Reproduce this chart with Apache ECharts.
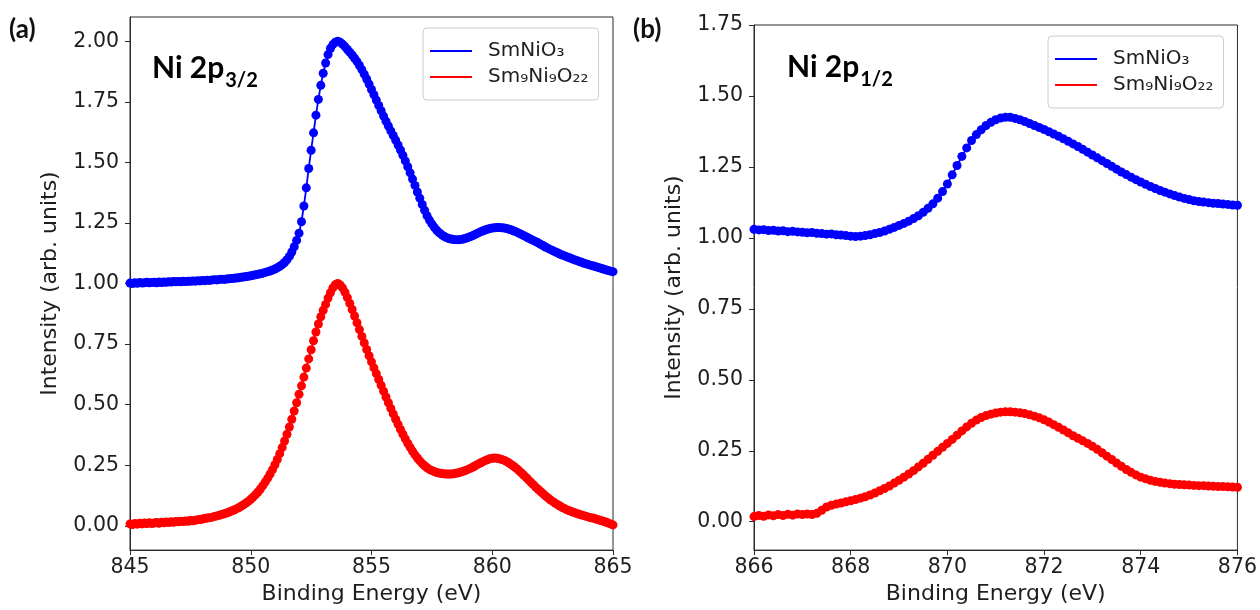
<!DOCTYPE html>
<html>
<head>
<meta charset="utf-8">
<script src="https://cdn.jsdelivr.net/npm/echarts@6/dist/echarts.min.js"></script>
<style>
html,body{margin:0;padding:0;background:#fff;}
#chart{width:1260px;height:610px;}
</style>
</head>
<body>
<div id="chart"></div>
<script>
// ---------- DATA ----------
const seriesNames = ['SmNiO\u2083', 'Sm\u2089Ni\u2089O\u2082\u2082'];
const panelLabels = ['(a)', '(b)'];
const peakLabels = [['Ni 2p', '3/2'], ['Ni 2p', '1/2']];
const xAxisTitle = 'Binding Energy (eV)';
const yAxisTitle = 'Intensity (arb. units)';

// Panel (a): binding energy 845.0 .. 865.0 eV, 0.1 eV sampling
const energyStartA = 845.0, energyStepA = 0.1;
const blueA = [
 1.002,1.000,1.003,1.001,1.004,1.002,1.003,1.005,1.003,1.004,
 1.005,1.003,1.006,1.004,1.006,1.005,1.007,1.006,1.008,1.007,
 1.008,1.007,1.009,1.008,1.010,1.009,1.011,1.010,1.012,1.011,
 1.013,1.012,1.014,1.013,1.015,1.016,1.015,1.017,1.018,1.017,
 1.019,1.020,1.021,1.022,1.023,1.024,1.026,1.027,1.029,1.030,
 1.032,1.034,1.036,1.038,1.040,1.043,1.046,1.049,1.052,1.056,
 1.060,1.065,1.071,1.078,1.087,1.098,1.112,1.130,1.152,1.178,
 1.208,1.255,1.320,1.395,1.475,1.550,1.622,1.695,1.760,1.818,
 1.868,1.910,1.945,1.970,1.986,1.996,2.000,1.996,1.988,1.978,
 1.966,1.955,1.943,1.930,1.916,1.900,1.883,1.864,1.844,1.823,
 1.801,1.779,1.757,1.735,1.713,1.691,1.670,1.650,1.630,1.611,
 1.592,1.572,1.551,1.529,1.506,1.482,1.457,1.431,1.405,1.378,
 1.352,1.326,1.302,1.280,1.262,1.246,1.232,1.220,1.210,1.202,
 1.195,1.190,1.186,1.184,1.182,1.181,1.181,1.182,1.184,1.187,
 1.190,1.194,1.198,1.203,1.208,1.213,1.217,1.221,1.224,1.227,
 1.229,1.230,1.231,1.231,1.230,1.229,1.227,1.224,1.221,1.217,
 1.213,1.208,1.203,1.198,1.193,1.188,1.183,1.178,1.173,1.168,
 1.162,1.157,1.151,1.146,1.141,1.136,1.131,1.127,1.122,1.118,
 1.114,1.110,1.106,1.102,1.098,1.095,1.091,1.088,1.084,1.081,
 1.078,1.075,1.072,1.069,1.066,1.063,1.060,1.057,1.054,1.051,
 1.049
];
const redA = [
 0.008,0.005,0.010,0.007,0.011,0.008,0.012,0.009,0.013,0.010,
 0.012,0.014,0.011,0.015,0.013,0.016,0.014,0.017,0.015,0.018,
 0.017,0.019,0.018,0.020,0.019,0.022,0.021,0.023,0.025,0.026,
 0.028,0.030,0.032,0.034,0.036,0.039,0.041,0.044,0.047,0.050,
 0.053,0.057,0.061,0.065,0.070,0.075,0.081,0.087,0.094,0.101,
 0.110,0.119,0.129,0.140,0.152,0.166,0.181,0.197,0.214,0.232,
 0.252,0.274,0.298,0.323,0.350,0.378,0.408,0.440,0.474,0.508,
 0.543,0.578,0.614,0.651,0.689,0.727,0.764,0.800,0.833,0.863,
 0.890,0.914,0.940,0.962,0.982,0.995,1.000,0.994,0.982,0.964,
 0.942,0.918,0.893,0.866,0.838,0.810,0.782,0.755,0.728,0.702,
 0.677,0.652,0.628,0.604,0.580,0.556,0.532,0.508,0.485,0.462,
 0.440,0.419,0.398,0.378,0.359,0.341,0.324,0.308,0.293,0.280,
 0.268,0.257,0.248,0.240,0.233,0.228,0.224,0.220,0.218,0.216,
 0.215,0.214,0.214,0.214,0.215,0.217,0.219,0.222,0.225,0.229,
 0.233,0.238,0.243,0.248,0.254,0.259,0.264,0.269,0.273,0.277,
 0.279,0.280,0.279,0.277,0.274,0.270,0.265,0.259,0.252,0.245,
 0.237,0.228,0.219,0.210,0.200,0.190,0.180,0.170,0.160,0.151,
 0.142,0.133,0.124,0.116,0.108,0.101,0.094,0.088,0.082,0.076,
 0.071,0.066,0.062,0.058,0.055,0.051,0.048,0.045,0.042,0.039,
 0.036,0.033,0.031,0.028,0.025,0.022,0.019,0.016,0.012,0.008,
 0.004
];

// Panel (b): binding energy 866.0 .. 876.0 eV, 0.1 eV sampling
const energyStartB = 866.0, energyStepB = 0.1;
const blueB = [
 1.030,1.028,1.029,1.026,1.027,1.024,1.025,1.022,1.023,1.021,
 1.020,1.018,1.019,1.016,1.015,1.013,1.014,1.011,1.010,1.008,
 1.006,1.005,1.006,1.008,1.011,1.015,1.019,1.024,1.030,1.037,
 1.044,1.051,1.059,1.068,1.078,1.090,1.104,1.120,1.140,1.163,
 1.190,1.222,1.255,1.287,1.317,1.343,1.364,1.381,1.396,1.407,
 1.416,1.422,1.425,1.425,1.421,1.416,1.410,1.403,1.396,1.389,
 1.382,1.374,1.366,1.358,1.349,1.340,1.331,1.322,1.312,1.302,
 1.292,1.282,1.272,1.262,1.252,1.242,1.232,1.223,1.214,1.205,
 1.197,1.189,1.181,1.174,1.167,1.161,1.155,1.149,1.144,1.139,
 1.135,1.131,1.128,1.126,1.124,1.122,1.121,1.119,1.118,1.116,
 1.115
];
const redB = [
 0.018,0.022,0.019,0.024,0.021,0.025,0.022,0.026,0.023,0.027,
 0.025,0.027,0.025,0.030,0.040,0.052,0.058,0.062,0.066,0.070,
 0.074,0.078,0.083,0.088,0.094,0.101,0.109,0.117,0.126,0.136,
 0.146,0.157,0.168,0.180,0.193,0.206,0.220,0.234,0.248,0.262,
 0.276,0.290,0.305,0.320,0.334,0.347,0.358,0.367,0.374,0.379,
 0.383,0.386,0.387,0.387,0.386,0.384,0.381,0.377,0.372,0.366,
 0.359,0.351,0.342,0.333,0.323,0.313,0.303,0.294,0.285,0.276,
 0.266,0.255,0.243,0.231,0.219,0.207,0.195,0.184,0.174,0.165,
 0.157,0.151,0.146,0.142,0.139,0.136,0.134,0.132,0.131,0.130,
 0.129,0.128,0.127,0.127,0.126,0.125,0.124,0.124,0.123,0.122,
 0.121
];

// axis ranges and ticks
const xRangeA = [845, 865], xIntervalA = 5;
const xRangeB = [866, 876], xIntervalB = 2;
const yRangeA = [-0.1, 2.1];
const yRangeB = [-0.1, 1.75];
const yTicksA = [0, 0.25, 0.5, 0.75, 1.0, 1.25, 1.5, 1.75, 2.0];
const yTicksB = [0, 0.25, 0.5, 0.75, 1.0, 1.25, 1.5, 1.75];

// ---------- BUILD ----------
function pairs(start, step, vals) {
  return vals.map((v, i) => [+(start + i * step).toFixed(2), v]);
}
const BLUE = '#0000ff', RED = '#ff0000';
const TXT = '#1e1e1e', AX = '#2a2a2a';
const tickFont = 'DejaVu Sans';

const chart = echarts.init(document.getElementById('chart'), null, {renderer: 'canvas'});

function xAxisCfg(idx, range, interval) {
  return {
    type: 'value', gridIndex: idx, min: range[0], max: range[1], interval: interval,
    name: xAxisTitle, nameLocation: 'middle', nameGap: 30,
    nameTextStyle: {fontFamily: tickFont, fontSize: 22, color: TXT},
    axisLine: {show: true, onZero: false, lineStyle: {color: AX, width: 1}},
    axisTick: {show: true, length: 5, inside: false, lineStyle: {color: AX}},
    axisLabel: {fontFamily: tickFont, fontSize: 20.5, color: TXT, margin: 7},
    splitLine: {show: false}
  };
}
function yAxisCfg(idx, range, ticks) {
  return {
    type: 'value', gridIndex: idx, min: range[0], max: range[1],
    name: yAxisTitle, nameLocation: 'middle', nameGap: 69, nameRotate: 90,
    nameTextStyle: {fontFamily: tickFont, fontSize: 22, color: TXT},
    axisLine: {show: true, onZero: false, lineStyle: {color: AX, width: 1}},
    axisTick: {show: true, length: 5, inside: false, customValues: ticks, lineStyle: {color: AX}},
    axisLabel: {fontFamily: tickFont, fontSize: 20.5, color: TXT, margin: 11,
      customValues: ticks, formatter: v => v.toFixed(2)},
    splitLine: {show: false}
  };
}
function lineSeries(name, color, xi, yi, data) {
  return {
    name: name, type: 'line', xAxisIndex: xi, yAxisIndex: yi, data: data,
    symbol: 'circle', symbolSize: 9, showSymbol: true, showAllSymbol: true,
    lineStyle: {color: color, width: 1.8}, itemStyle: {color: color},
    emphasis: {disabled: true}, animation: false, z: 3
  };
}
function legendCfg(left, top) {
  return {
    left: left, top: top, orient: 'vertical', selectedMode: false,
    data: seriesNames.map(n => ({name: n, icon: 'rect'})),
    itemWidth: 42, itemHeight: 2, itemGap: 6,
    padding: [13, 10, 13, 7],
    borderColor: '#cccccc', borderWidth: 1, borderRadius: 4, backgroundColor: '#ffffff',
    textStyle: {fontFamily: tickFont, fontSize: 20, color: TXT, padding: [0, 0, 0, 11]}
  };
}

// measure text to place the subscripts
const mctx = document.createElement('canvas').getContext('2d');
const mainFont = 'bold 30px Lato';
mctx.font = mainFont;
const w0 = mctx.measureText(peakLabels[0][0]).width;
const w1 = mctx.measureText(peakLabels[1][0]).width;

const option = {
  backgroundColor: '#ffffff',
  animation: false,
  grid: [
    {left: 130, right: 1260 - 613, top: 17, bottom: 610 - 551, show: true, borderColor: AX, borderWidth: 1, containLabel: false},
    {left: 754, right: 1260 - 1238, top: 25, bottom: 610 - 551, show: true, borderColor: AX, borderWidth: 1, containLabel: false}
  ],
  xAxis: [xAxisCfg(0, xRangeA, xIntervalA), xAxisCfg(1, xRangeB, xIntervalB)],
  yAxis: [yAxisCfg(0, yRangeA, yTicksA), yAxisCfg(1, yRangeB, yTicksB)],
  legend: [legendCfg(423, 28), legendCfg(1048, 36)],
  series: [
    lineSeries(seriesNames[0], BLUE, 0, 0, pairs(energyStartA, energyStepA, blueA)),
    lineSeries(seriesNames[1], RED, 0, 0, pairs(energyStartA, energyStepA, redA)),
    lineSeries(seriesNames[0], BLUE, 1, 1, pairs(energyStartB, energyStepB, blueB)),
    lineSeries(seriesNames[1], RED, 1, 1, pairs(energyStartB, energyStepB, redB))
  ],
  graphic: [
    {type: 'text', left: 9, top: 17, style: {text: panelLabels[0], font: 'bold 26px Lato', fill: '#111'}},
    {type: 'text', left: 633, top: 17, style: {text: panelLabels[1], font: 'bold 26px Lato', fill: '#111'}},
    {type: 'text', x: 152, y: 68, style: {text: peakLabels[0][0], font: mainFont, fill: '#000', verticalAlign: 'middle', align: 'left'}},
    {type: 'text', x: 152 + w0 + 1, y: 81, style: {text: peakLabels[0][1], font: 'bold 20px Lato', fill: '#000', verticalAlign: 'middle', align: 'left'}},
    {type: 'text', x: 787, y: 67, style: {text: peakLabels[1][0], font: mainFont, fill: '#000', verticalAlign: 'middle', align: 'left'}},
    {type: 'text', x: 787 + w1 + 1, y: 80, style: {text: peakLabels[1][1], font: 'bold 20px Lato', fill: '#000', verticalAlign: 'middle', align: 'left'}}
  ]
};
chart.setOption(option);
</script>
</body>
</html>
